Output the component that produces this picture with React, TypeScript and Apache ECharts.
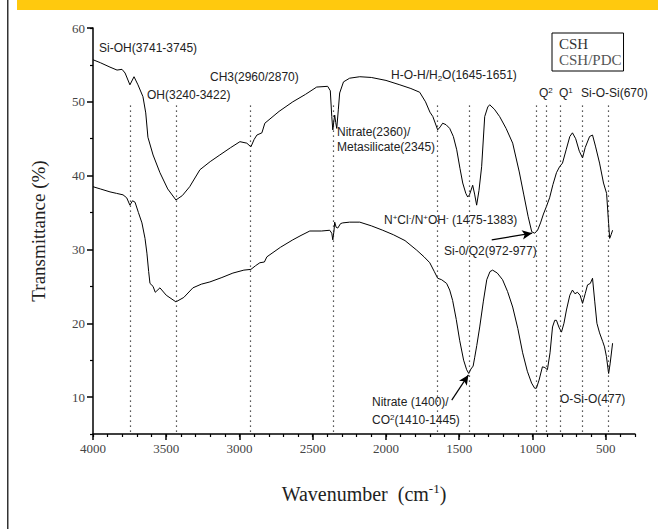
import React, { useEffect, useRef } from "react";
import * as echarts from "echarts";

// Upper spectrum (CSH)
const upperWavenumber = [
  4000, 3950, 3884, 3836, 3802, 3781, 3748, 3720, 3693, 3659, 3640, 3625, 3590, 3543, 3490, 3434, 3390, 3340, 3270, 3200,
  3134, 3060, 2997, 2950, 2922, 2900, 2881, 2847, 2827, 2730, 2636, 2550, 2473, 2398, 2380, 2370, 2363, 2355, 2350, 2343,
  2336, 2325, 2316, 2290, 2248, 2179, 2100, 2000, 1905, 1830, 1770, 1730, 1700, 1680, 1647, 1630, 1613, 1590, 1565, 1540,
  1517, 1495, 1476, 1455, 1442, 1430, 1408, 1395, 1381, 1365, 1347, 1326, 1305, 1292, 1260, 1224, 1180, 1135, 1090, 1060,
  1030, 1005, 985, 965, 945, 925, 905, 883, 860, 836, 815, 795, 770, 745, 727, 705, 680, 658, 640, 610,
  590, 570, 542, 515, 494, 480, 473, 463, 453,
];
const upperTransmittance = [
  55.7, 55.3, 54.7, 54.3, 54.4, 53.9, 52.3, 53.4, 52.3, 50.7, 48.5, 45.2, 42.8, 40.4, 38.2, 36.7, 37.3, 38.5, 40.8, 41.9,
  42.8, 43.8, 44.6, 44.4, 43.9, 44.9, 45.5, 45.8, 47.1, 48.7, 50.0, 51.0, 52.0, 52.1, 51.5, 48.0, 46.2, 47.5, 48.2, 47.2,
  46.4, 49.0, 51.2, 52.7, 53.2, 53.4, 53.3, 52.9, 52.3, 51.8, 51.3, 50.0, 48.6, 48.0, 46.2, 46.6, 47.1, 46.9, 46.4, 45.3,
  43.5, 41.0, 39.0, 37.6, 37.1, 37.4, 38.7, 37.5, 36.0, 38.0, 41.2, 48.0, 49.3, 49.6, 49.0, 48.0, 46.4, 44.4, 40.5, 37.5,
  34.5, 32.4, 32.2, 32.6, 33.6, 34.8, 35.8, 37.0, 38.8, 40.4, 41.2, 41.7, 43.5, 45.3, 45.8, 45.0, 43.3, 42.4, 43.8, 45.3,
  45.5, 44.0, 41.7, 39.0, 37.6, 33.5, 31.5, 32.0, 32.6,
];

// Lower spectrum (CSH/PDC)
const lowerWavenumber = [
  4000, 3950, 3884, 3840, 3795, 3770, 3748, 3730, 3713, 3690, 3666, 3645, 3632, 3620, 3611, 3590, 3575, 3564, 3543, 3500,
  3434, 3380, 3318, 3260, 3202, 3120, 3045, 2970, 2922, 2890, 2861, 2830, 2813, 2720, 2636, 2580, 2520, 2440, 2384, 2370,
  2363, 2355, 2350, 2340, 2329, 2310, 2295, 2248, 2179, 2100, 2022, 1950, 1870, 1790, 1740, 1701, 1670, 1647, 1620, 1586,
  1565, 1545, 1520, 1497, 1470, 1449, 1435, 1420, 1405, 1394, 1380, 1360, 1335, 1312, 1290, 1272, 1240, 1204, 1170, 1135,
  1100, 1067, 1035, 1006, 985, 973, 955, 932, 915, 898, 880, 863, 848, 836, 820, 802, 785, 768, 745, 727,
  710, 693, 675, 658, 640, 624, 605, 590, 575, 560, 542, 520, 508, 495, 480, 470, 453,
];
const lowerTransmittance = [
  38.5, 38.2, 37.8, 37.6, 37.4, 37.0, 36.0, 36.6, 36.4, 35.0, 33.6, 31.5, 29.5, 27.0, 25.4, 25.0, 24.2, 24.4, 24.8, 23.8,
  22.9, 23.5, 24.8, 25.3, 25.6, 26.2, 26.8, 27.2, 27.3, 27.8, 28.2, 28.3, 29.0, 30.3, 31.3, 31.9, 32.5, 32.5, 32.6, 32.2,
  31.3, 32.5, 33.7, 33.0, 32.9, 33.5, 33.6, 33.7, 33.7, 33.2, 32.6, 32.0, 31.2, 29.9, 29.0, 28.2, 27.0, 26.1, 25.9, 25.4,
  24.5, 23.1, 20.5, 17.7, 15.0, 13.7, 13.2, 13.8, 14.2, 15.4, 17.0, 19.5, 23.0, 25.9, 27.0, 27.2, 26.8, 25.9, 24.3, 22.2,
  19.3, 16.0, 13.5, 11.9, 11.2, 11.2, 12.3, 14.1, 14.0, 13.7, 16.0, 19.5, 20.4, 20.4, 19.5, 18.8, 20.0, 21.8, 23.8, 24.5,
  24.0, 24.2, 23.8, 22.7, 24.0, 25.2, 25.4, 26.1, 23.0, 20.0, 18.7, 17.5, 16.8, 15.5, 13.2, 14.5, 17.3,
];

// Dotted marker wavenumbers
const markerWavenumbers = [3745, 3430, 2925, 2360, 1647, 1430, 977, 905, 808, 660, 485];
const markerTop = 49.5;
const markerBottom = 5;

// Arrows: [fromWavenumber, fromT, toWavenumber, toT]
const arrows = [
  [1278, 31.3, 1002, 32.2],
  [1551, 9.6, 1437, 13.0],
];

const xMajorTicks = [500, 1000, 1500, 2000, 2500, 3000, 3500, 4000];
const yMajorTicks = [10, 20, 30, 40, 50, 60];

const serif = "'Liberation Serif', 'DejaVu Serif', serif";
const sans = "'Liberation Sans', Arial, sans-serif";

const annotations: { text: string; x: number; y: number }[] = [
  { text: "Si-OH(3741-3745)", x: 99, y: 48 },
  { text: "OH(3240-3422)", x: 147, y: 95 },
  { text: "CH3(2960/2870)", x: 210, y: 77 },
  { text: "Nitrate(2360)/", x: 337, y: 132 },
  { text: "Metasilicate(2345)", x: 337, y: 147 },
  { text: "H-O-H/H{b|2}O(1645-1651)", x: 391, y: 75 },
  { text: "Q{s|2}", x: 539, y: 93 },
  { text: "Q{s|1}", x: 559, y: 93 },
  { text: "Si-O-Si(670)", x: 581, y: 93 },
  { text: "N{s|+}Cl{s|-}/N{s|+}OH{s|-} (1475-1383)", x: 384, y: 220 },
  { text: "Si-0/Q2(972-977)", x: 444, y: 251 },
  { text: "Nitrate (1400)/", x: 372, y: 402 },
  { text: "CO{s|2}(1410-1445)", x: 372, y: 420 },
  { text: "O-Si-O(477)", x: 560, y: 399 },
];

const richText = {
  s: { fontSize: 8, fontFamily: sans, fill: "#222", verticalAlign: "top", lineHeight: 14 },
  b: { fontSize: 8, fontFamily: sans, fill: "#222", verticalAlign: "bottom", lineHeight: 14 },
};

export default function App() {
  const ref = useRef<HTMLDivElement>(null);
  useEffect(() => {
    const chart = echarts.init(ref.current!, null, { renderer: "svg" });
    const upperData = upperWavenumber.map((w, i) => [w, upperTransmittance[i]]);
    const lowerData = lowerWavenumber.map((w, i) => [w, lowerTransmittance[i]]);
    const axisColor = "#000";
    chart.setOption({
      animation: false,
      backgroundColor: "#fff",
      grid: { left: 93, right: 23, top: 28, bottom: 95 },
      legend: {
        left: 552,
        top: 33,
        orient: "vertical",
        itemWidth: 0,
        itemHeight: 0,
        itemGap: 0,
        padding: [3, 2, 3, 1],
        borderColor: "#000",
        borderWidth: 1,
        selectedMode: false,
        textStyle: { fontFamily: serif, fontSize: 15, lineHeight: 16 },
        data: [
          { name: "CSH", textStyle: { color: "#333" } },
          { name: "CSH/PDC", textStyle: { color: "#555" } },
        ],
      },
      xAxis: [
        {
          type: "value",
          min: 300,
          max: 4000,
          inverse: true,
          position: "bottom",
          name: "{a|Wavenumber  (cm}{s|-1}{a|)}",
          nameLocation: "middle",
          nameGap: 48,
          nameTextStyle: {
            rich: {
              a: { fontFamily: serif, fontSize: 20, color: "#222", lineHeight: 24 },
              s: { fontFamily: serif, fontSize: 13, color: "#222", verticalAlign: "top", lineHeight: 24 },
            },
          },
          axisLine: { show: true, lineStyle: { color: axisColor, width: 1.5 } },
          axisTick: { show: true, customValues: xMajorTicks, length: 6, lineStyle: { color: axisColor, width: 1.5 } },
          axisLabel: {
            customValues: xMajorTicks,
            fontFamily: serif,
            fontSize: 13,
            color: "#444",
            margin: 8,
            formatter: (v: number) => String(v),
          },
          splitLine: { show: false },
        },
        {
          type: "value",
          min: 300,
          max: 4000,
          inverse: true,
          interval: 100,
          position: "bottom",
          axisLine: { show: false },
          axisTick: { show: true, length: 3, lineStyle: { color: axisColor, width: 1.2 } },
          axisLabel: { show: false },
          splitLine: { show: false },
        },
      ],
      yAxis: [
        {
          type: "value",
          min: 5,
          max: 60,
          position: "left",
          name: "Transmittance (%)",
          nameLocation: "middle",
          nameGap: 45,
          nameTextStyle: { fontFamily: serif, fontSize: 19, color: "#222" },
          axisLine: { show: true, lineStyle: { color: axisColor, width: 1.5 } },
          axisTick: { show: true, customValues: yMajorTicks, length: 6, lineStyle: { color: axisColor, width: 1.5 } },
          axisLabel: {
            customValues: yMajorTicks,
            fontFamily: serif,
            fontSize: 13,
            color: "#444",
            margin: 8,
            formatter: (v: number) => String(v),
          },
          splitLine: { show: false },
        },
        {
          type: "value",
          min: 5,
          max: 60,
          interval: 10,
          position: "left",
          axisLine: { show: false },
          axisTick: { show: true, length: 3, lineStyle: { color: axisColor, width: 1.2 } },
          axisLabel: { show: false },
          splitLine: { show: false },
        },
      ],
      series: [
        {
          name: "CSH",
          type: "line",
          xAxisIndex: 0,
          yAxisIndex: 0,
          data: upperData,
          showSymbol: false,
          symbol: "none",
          lineStyle: { color: "#000", width: 1 },
          itemStyle: { color: "#000" },
          silent: true,
          markLine: {
            silent: true,
            symbol: ["none", "none"],
            label: { show: false },
            lineStyle: { color: "#222", width: 1.2, type: [1.2, 3.8] },
            data: markerWavenumbers.map((w) => [
              { coord: [w, markerTop] },
              { coord: [w, markerBottom] },
            ]),
          },
        },
        {
          name: "CSH/PDC",
          type: "line",
          xAxisIndex: 0,
          yAxisIndex: 0,
          data: lowerData,
          showSymbol: false,
          symbol: "none",
          lineStyle: { color: "#000", width: 1 },
          itemStyle: { color: "#000" },
          silent: true,
          markLine: {
            silent: true,
            symbol: ["none", "arrow"],
            symbolSize: [7, 10],
            label: { show: false },
            lineStyle: { color: "#000", width: 1.2, type: "solid" },
            data: arrows.map((a) => [{ coord: [a[0], a[1]] }, { coord: [a[2], a[3]] }]),
          },
        },
      ],
      graphic: [
        { type: "rect", shape: { x: 17, y: 0, width: 641, height: 10 }, style: { fill: "#FFC90E" }, silent: true },
        { type: "rect", shape: { x: 7, y: 0, width: 1.5, height: 529 }, style: { fill: "#333" }, silent: true },
        ...annotations.map((a) => ({
          type: "text",
          x: a.x,
          y: a.y,
          silent: true,
          style: {
            text: a.text,
            fontFamily: sans,
            fontSize: 12,
            fill: "#222",
            verticalAlign: "middle",
            align: "left",
            rich: richText,
          },
        })),
      ],
    });
    return () => chart.dispose();
  }, []);
  return (
    <div style={{ position: "fixed", left: 0, top: 0, width: 658, height: 529, background: "#fff" }}>
      <div ref={ref} style={{ width: 658, height: 529 }} />
    </div>
  );
}
